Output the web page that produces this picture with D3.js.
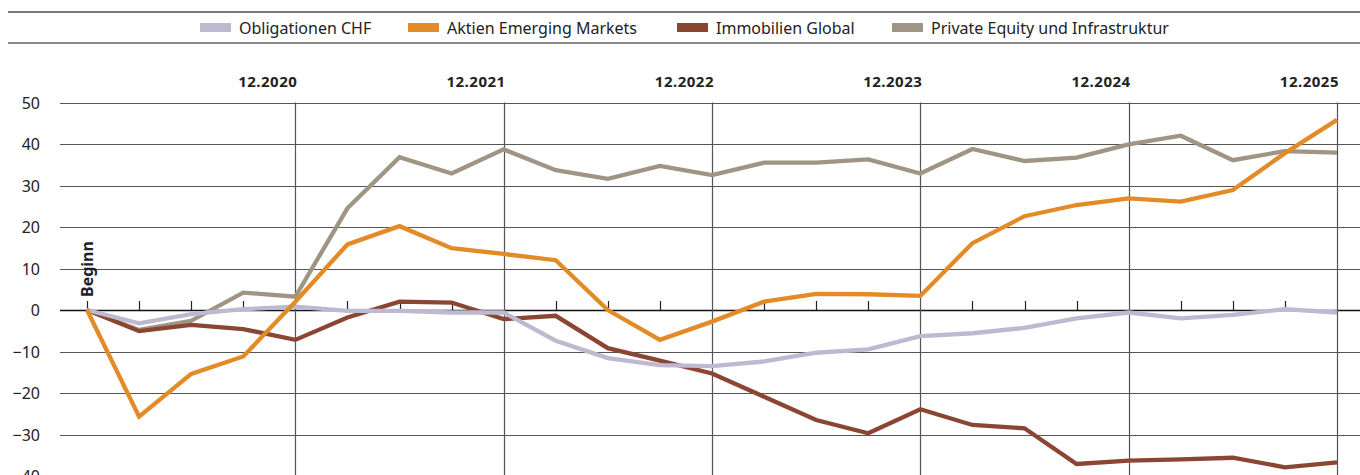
<!DOCTYPE html>
<html>
<head>
<meta charset="utf-8">
<script src="https://cdn.jsdelivr.net/npm/d3@7/dist/d3.min.js"></script>
<style>
  body { margin: 0; background: #fff; }
  svg { display: block; font-family: "Noto Sans", "Open Sans", sans-serif; }
</style>
</head>
<body>
<div id="chart"></div>
<script>
// quarters from Beginn (12.2019) to 12.2025
const periods = d3.range(25);
const yearLabels = ['12.2020', '12.2021', '12.2022', '12.2023', '12.2024', '12.2025'];
const yearIndex = [4, 8, 12, 16, 20, 24];

const seriesNames = ['Obligationen CHF', 'Aktien Emerging Markets', 'Immobilien Global', 'Private Equity und Infrastruktur'];
const seriesColors = ['#bdb9d1', '#e38b27', '#8a4633', '#a09584'];

const obligationenCHF = [0, -3.2, -1.0, 0.2, 0.8, -0.2, -0.2, -0.6, -0.6, -7.4, -11.6, -13.3, -13.5, -12.4, -10.3, -9.5, -6.3, -5.6, -4.3, -2.0, -0.6, -2.0, -1.2, 0.2, -0.6];
const aktienEM = [0, -25.7, -15.4, -11.2, 2.0, 15.8, 20.2, 14.9, 13.5, 12.0, 0, -7.2, -2.8, 2.0, 3.9, 3.8, 3.4, 16.1, 22.6, 25.3, 26.9, 26.1, 28.9, 37.8, 45.8];
const immobilienGlobal = [0, -5.1, -3.6, -4.6, -7.2, -1.8, 2.0, 1.8, -2.2, -1.4, -9.2, -12.2, -15.3, -20.9, -26.5, -29.7, -23.9, -27.7, -28.5, -37.1, -36.3, -36.0, -35.6, -37.9, -36.7];
const privateEquity = [0, -4.8, -2.6, 4.2, 3.2, 24.5, 36.8, 32.9, 38.7, 33.7, 31.6, 34.7, 32.5, 35.5, 35.5, 36.3, 32.9, 38.8, 35.9, 36.7, 39.9, 42.0, 36.1, 38.3, 37.9];

const yTicks = [50, 40, 30, 20, 10, 0, -10, -20, -30, -40];

const width = 1360, height = 475;

const svg = d3.select('#chart').append('svg')
  .attr('width', width)
  .attr('height', height);

const x = d3.scaleLinear().domain([0, 24]).range([87, 1337]);
const y = d3.scaleLinear().domain([-40, 50]).range([476, 102.5]);

// legend rules
svg.append('line').attr('x1', 8).attr('x2', width).attr('y1', 12).attr('y2', 12)
  .attr('stroke', '#777').attr('stroke-width', 2);
svg.append('line').attr('x1', 8).attr('x2', width).attr('y1', 43).attr('y2', 43)
  .attr('stroke', '#666').attr('stroke-width', 1.5);

// legend
const legendX = [200, 408, 677, 892];
const legend = svg.selectAll('.legend-item')
  .data(seriesNames)
  .enter()
  .append('g')
  .attr('class', 'legend-item')
  .attr('transform', (d, i) => `translate(${legendX[i]}, 23)`);

legend.append('rect')
  .attr('width', 31)
  .attr('height', 9)
  .attr('fill', (d, i) => seriesColors[i]);

legend.append('text')
  .attr('x', 39)
  .attr('y', 11)
  .attr('font-size', '16px')
  .attr('fill', '#222')
  .text(d => d);

// horizontal grid + y labels
const grid = svg.append('g');
grid.selectAll('.grid-line')
  .data(yTicks)
  .enter()
  .append('line')
  .attr('class', 'grid-line')
  .attr('x1', 60)
  .attr('x2', width)
  .attr('y1', d => Math.round(y(d)) + 0.5)
  .attr('y2', d => Math.round(y(d)) + 0.5)
  .attr('stroke', d => d === 0 ? '#111' : '#555')
  .attr('stroke-width', d => d === 0 ? 1.4 : 1.2);

grid.selectAll('.y-label')
  .data(yTicks)
  .enter()
  .append('text')
  .attr('class', 'y-label')
  .attr('x', 40)
  .attr('y', d => y(d) + 6)
  .attr('text-anchor', 'end')
  .attr('font-size', '16px')
  .attr('fill', '#222')
  .text(d => d < 0 ? '\u2212' + Math.abs(d) : d);

// year lines and labels
svg.selectAll('.year-line')
  .data(yearIndex)
  .enter()
  .append('line')
  .attr('class', 'year-line')
  .attr('x1', d => Math.round(x(d)) + 0.5)
  .attr('x2', d => Math.round(x(d)) + 0.5)
  .attr('y1', y(50))
  .attr('y2', height)
  .attr('stroke', '#555')
  .attr('stroke-width', 1.2);

svg.selectAll('.year-label')
  .data(yearLabels)
  .enter()
  .append('text')
  .attr('class', 'year-label')
  .attr('x', (d, i) => x(yearIndex[i]) + 2)
  .attr('y', 87)
  .attr('text-anchor', 'end')
  .attr('font-size', '15px')
  .attr('font-weight', 'bold')
  .attr('letter-spacing', '0.5px')
  .attr('fill', '#222')
  .text(d => d);

// quarter ticks on zero line
svg.selectAll('.q-tick')
  .data(periods.filter(d => !yearIndex.includes(d)))
  .enter()
  .append('line')
  .attr('class', 'q-tick')
  .attr('x1', d => Math.round(x(d)) + 0.5)
  .attr('x2', d => Math.round(x(d)) + 0.5)
  .attr('y1', y(0))
  .attr('y2', y(0) - 9)
  .attr('stroke', '#222')
  .attr('stroke-width', 1.2);

// Beginn label
svg.append('text')
  .attr('transform', `translate(${x(0) + 6}, ${y(0) - 13}) rotate(-90)`)
  .attr('font-size', '16px')
  .attr('font-weight', 'bold')
  .attr('fill', '#222')
  .text('Beginn');

// series lines
const line = d3.line()
  .x((d, i) => x(i))
  .y(d => y(d));

const seriesData = [privateEquity, immobilienGlobal, obligationenCHF, aktienEM];
const drawColors = [seriesColors[3], seriesColors[2], seriesColors[0], seriesColors[1]];

svg.selectAll('.series')
  .data(seriesData)
  .enter()
  .append('path')
  .attr('class', 'series')
  .attr('d', d => line(d))
  .attr('fill', 'none')
  .attr('stroke', (d, i) => drawColors[i])
  .attr('stroke-width', 4.3)
  .attr('stroke-linejoin', 'miter');
</script>
</body>
</html>
